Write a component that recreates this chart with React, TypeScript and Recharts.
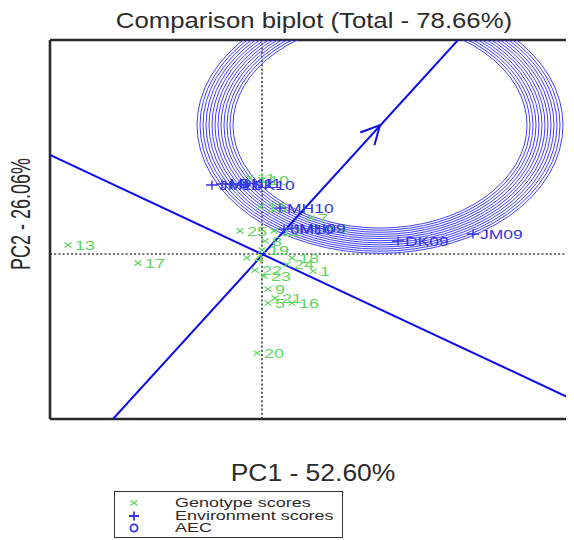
import React from 'react';
import { ScatterChart, Scatter, XAxis, YAxis, ReferenceLine } from 'recharts';

// ---- data (PC1, PC2 scores) ----
const X_DOMAIN: [number, number] = [-4.24, 6.24];
const Y_DOMAIN: [number, number] = [-4.71, 6.11];

const genotypeNames = ['13', '17', '20', '15', '7', '25', '12', '3', '8', '19', '4', '18', '24', '1', '22', '23', '9', '21', '5', '16', '10', '11'];
const genotypePC1 = [-3.88, -2.48, -0.1, -0.04, 0.98, -0.44, 0.24, 1.36, 0.06, 0.0, -0.3, 0.6, 0.5, 1.02, -0.14, 0.04, 0.12, 0.26, 0.12, 0.6, 0.0, -0.24];
const genotypePC2 = [0.26, -0.26, -2.83, 1.34, 1.03, 0.66, 0.66, 0.74, 0.37, 0.11, -0.11, -0.11, -0.29, -0.49, -0.46, -0.63, -1.0, -1.26, -1.4, -1.4, 2.11, 2.17];

const envNames = ['JM09', 'DK09', 'MH10', 'JM10', 'MH09', 'JM11', 'MH11', 'DK11', 'DK10'];
const envPC1 = [4.22, 2.72, 0.36, 0.44, 0.6, -1.0, -0.8, -0.6, -0.36];
const envPC2 = [0.57, 0.37, 1.31, 0.71, 0.74, 1.97, 2.0, 2.0, 1.97];

const aecCenter = [{ x: 2.36, y: 3.68 }];
const ringRadii = [2.94, 3.0, 3.06, 3.12, 3.18, 3.24, 3.3, 3.36, 3.42, 3.48, 3.54, 3.6, 3.66];
const aecAbscissa = [{ x: -2.98, y: -4.71 }, { x: 3.92, y: 6.11 }];
const aecOrdinate = [{ x: -4.24, y: 2.83 }, { x: 6.24, y: -4.17 }];

const genotypes = genotypeNames.map((name, i) => ({ name, x: genotypePC1[i], y: genotypePC2[i] }));
const environments = envNames.map((name, i) => ({ name, x: envPC1[i], y: envPC2[i] }));

// ---- layout / style ----
const W = 566;
const H = 530;
const M = { top: 32, right: 0, bottom: 119, left: 42 };
const PLOT_W = W - M.left - M.right;
const PLOT_H = H - M.top - M.bottom;
const PX_X = PLOT_W / (X_DOMAIN[1] - X_DOMAIN[0]);
const PX_Y = PLOT_H / (Y_DOMAIN[1] - Y_DOMAIN[0]);

const GREEN = '#5cd65c';
const BLUE_TXT = '#3434e4';
const BLUE_LINE = '#0c0cec';
const RING = '#4040ff';
const FONT = '"Liberation Sans", Arial, Helvetica, sans-serif';

const Empty = () => <g />;

const RingShape = (props: any) => {
  const { cx, cy } = props;
  return (
    <g>
      {ringRadii.map((r, i) => (
        <ellipse key={i} cx={cx} cy={cy} rx={r * PX_X} ry={r * PX_Y} fill="none" stroke={RING} strokeWidth={1} />
      ))}
    </g>
  );
};

const ArrowShape = (props: any) => {
  const { cx, cy, payload } = props;
  const theta = Math.atan2(-payload.y * PX_Y, payload.x * PX_X);
  const back = theta + Math.PI;
  const len = 21;
  const spread = (27 * Math.PI) / 180;
  const x1 = cx + len * Math.cos(back - spread);
  const y1 = cy + len * Math.sin(back - spread);
  const x2 = cx + len * Math.cos(back + spread);
  const y2 = cy + len * Math.sin(back + spread);
  return <path d={`M${x1},${y1}L${cx},${cy}L${x2},${y2}`} fill="none" stroke={BLUE_LINE} strokeWidth={2} />;
};

const GenotypeShape = (props: any) => {
  const { cx, cy, payload } = props;
  return (
    <g>
      <path
        d={`M${cx - 3.5},${cy - 2.6}L${cx + 3.5},${cy + 2.6}M${cx - 3.5},${cy + 2.6}L${cx + 3.5},${cy - 2.6}`}
        stroke={GREEN}
        strokeWidth={1.1}
      />
      <text transform={`translate(${cx + 7},${cy + 4.7}) scale(1.38,1)`} fontSize={13} fill={GREEN} fontFamily={FONT}>
        {payload.name}
      </text>
    </g>
  );
};

const EnvShape = (props: any) => {
  const { cx, cy, payload } = props;
  return (
    <g>
      <path d={`M${cx - 6},${cy}L${cx + 6},${cy}M${cx},${cy - 4.5}L${cx},${cy + 4.5}`} stroke={BLUE_TXT} strokeWidth={1.4} />
      <text transform={`translate(${cx + 7},${cy + 4.5}) scale(1.4,1)`} fontSize={12.5} fill={BLUE_TXT} fontFamily={FONT}>
        {payload.name}
      </text>
    </g>
  );
};

const legendItems = [
  { label: 'Genotype scores', kind: 'x' },
  { label: 'Environment scores', kind: '+' },
  { label: 'AEC', kind: 'o' },
];

const LegendIcon = ({ kind }: { kind: string }) => (
  <svg width={12} height={12} style={{ display: 'block' }}>
    {kind === 'x' && <path d="M2.5,3.5L9.5,8.5M2.5,8.5L9.5,3.5" stroke={GREEN} strokeWidth={1.2} />}
    {kind === '+' && <path d="M1,6L11,6M6,1.5L6,10.5" stroke={BLUE_TXT} strokeWidth={1.8} />}
    {kind === 'o' && <circle cx={6} cy={6} r={3.6} fill="none" stroke={BLUE_TXT} strokeWidth={1.8} />}
  </svg>
);

export default function App() {
  return (
    <div style={{ position: 'relative', width: W, height: H, fontFamily: FONT }}>
      <ScatterChart width={W} height={H} margin={M}>
        <XAxis type="number" dataKey="x" domain={X_DOMAIN} hide allowDataOverflow />
        <YAxis type="number" dataKey="y" domain={Y_DOMAIN} hide allowDataOverflow />
        <Scatter data={aecCenter} shape={RingShape} isAnimationActive={false} />
        <ReferenceLine x={0} stroke="#444" strokeWidth={1.7} strokeDasharray="2 2.2" />
        <ReferenceLine y={0} stroke="#444" strokeWidth={1.7} strokeDasharray="2 2.2" />
        <Scatter data={aecAbscissa} shape={Empty} line={{ stroke: BLUE_LINE, strokeWidth: 2 }} lineType="joint" isAnimationActive={false} />
        <Scatter data={aecOrdinate} shape={Empty} line={{ stroke: BLUE_LINE, strokeWidth: 2 }} lineType="joint" isAnimationActive={false} />
        <Scatter data={aecCenter} shape={ArrowShape} isAnimationActive={false} />
        <Scatter data={genotypes} shape={GenotypeShape} isAnimationActive={false} />
        <Scatter data={environments} shape={EnvShape} isAnimationActive={false} />
        <ReferenceLine x={X_DOMAIN[0]} stroke="#2a2a2a" strokeWidth={2.6} />
        <ReferenceLine y={Y_DOMAIN[1]} stroke="#2a2a2a" strokeWidth={2.6} />
        <ReferenceLine y={Y_DOMAIN[0]} stroke="#2a2a2a" strokeWidth={2.6} />
      </ScatterChart>

      <div
        style={{
          position: 'absolute', left: 306, top: 13, fontSize: 22, lineHeight: 1, whiteSpace: 'nowrap', color: '#2b2b2b',
          transform: 'translate(-50%,-50%) scaleX(1.17)',
        }}
      >
        Comparison biplot (Total - 78.66%)
      </div>
      <div
        style={{
          position: 'absolute', left: 305, top: 465, fontSize: 23, lineHeight: 1, whiteSpace: 'nowrap', color: '#2b2b2b',
          transform: 'translate(-50%,-50%) scaleX(1.15)',
        }}
      >
        PC1 - 52.60%
      </div>
      <div style={{ position: 'absolute', left: 13, top: 206, width: 0, height: 0 }}>
        <div
          style={{
            position: 'absolute', left: 0, top: 0, fontSize: 18, lineHeight: 1, whiteSpace: 'nowrap', color: '#2b2b2b',
            transform: 'translate(-50%,-50%) scaleX(1.5) rotate(-90deg)',
          }}
        >
          PC2 - 26.06%
        </div>
      </div>

      <div
        style={{
          position: 'absolute', left: 106, top: 483, width: 229, height: 47, boxSizing: 'border-box',
          border: '1.5px solid #333', background: '#fff',
        }}
      >
        {legendItems.map((it, i) => (
          <div key={it.label} style={{ position: 'absolute', left: 0, top: 5 + i * 12.5, height: 12.5, width: '100%' }}>
            <div style={{ position: 'absolute', left: 13, top: 0 }}>
              <LegendIcon kind={it.kind} />
            </div>
            <div
              style={{
                position: 'absolute', left: 60, top: -1, fontSize: 13, lineHeight: '13px', whiteSpace: 'nowrap', color: '#2b2b2b',
                transform: 'scaleX(1.38)', transformOrigin: 'left center',
              }}
            >
              {it.label}
            </div>
          </div>
        ))}
      </div>
    </div>
  );
}
